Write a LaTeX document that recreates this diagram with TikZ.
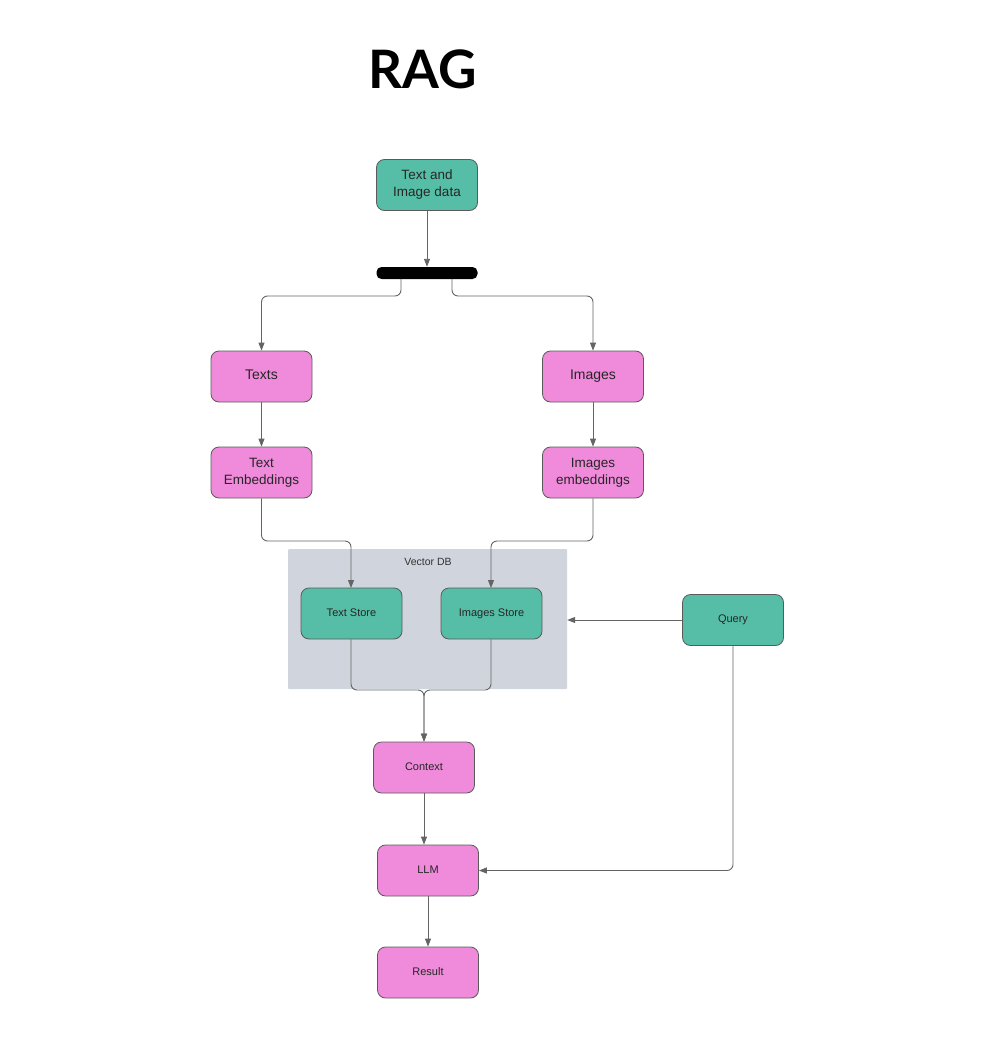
\documentclass[tikz,border=0pt]{standalone}
\usepackage{fontspec}
\setmainfont{Liberation Sans}
\newfontfamily\titlefont{Lato}
\usetikzlibrary{arrows.meta}
\definecolor{tealbox}{RGB}{86,190,166}
\definecolor{pinkbox}{RGB}{240,138,218}
\definecolor{dbgray}{RGB}{208,212,220}
\definecolor{edgegray}{RGB}{90,90,90}
\definecolor{linegray}{RGB}{100,100,100}
\tikzset{
  box/.style={draw=edgegray, line width=0.8pt, rounded corners=8pt, minimum width=101pt, minimum height=51pt, inner sep=0pt, align=center, text=black!85},
  tealnode/.style={box, fill=tealbox},
  pinknode/.style={box, fill=pinkbox},
  conn/.style={draw=linegray, line width=0.9pt, rounded corners=6pt, -{Triangle[length=8pt,width=6pt]}},
}
\begin{document}
\begin{tikzpicture}[x=1pt,y=-1pt]
\useasboundingbox (0,0) rectangle (1002,1054);
\node[font=\titlefont\bfseries\fontsize{53}{60}\selectfont] (title) at (423,69) {RAG};

\node[tealnode, font=\fontsize{13.5}{17}\selectfont] (data) at (427,185) {Text and\\Image data};
\node[fill=black, rounded corners=5pt, minimum width=101pt, minimum height=12pt, inner sep=0pt] (bar) at (427,273) {};

\node[pinknode, font=\fontsize{14}{17}\selectfont] (texts) at (261.5,376.5) {\strut Texts};
\node[pinknode, font=\fontsize{14}{17}\selectfont] (images) at (593,376.5) {\strut Images};
\node[pinknode, font=\fontsize{13.5}{17}\selectfont] (temb) at (261.5,472.5) {Text\\Embeddings};
\node[pinknode, font=\fontsize{13.5}{17}\selectfont] (iemb) at (593,472.5) {Images\\embeddings};

\node[fill=dbgray, minimum width=279pt, minimum height=140pt, inner sep=0pt, rounded corners=1pt] (vdb) at (427.5,619) {};
\node[font=\fontsize{10.5}{13}\selectfont, text=black!80] (vdblabel) at (428,562) {Vector DB};

\node[tealnode, font=\fontsize{11}{13}\selectfont] (tstore) at (351.5,613.5) {\strut Text Store};
\node[tealnode, font=\fontsize{11}{13}\selectfont] (istore) at (491.5,613.5) {\strut Images Store};
\node[tealnode, font=\fontsize{11}{13}\selectfont] (query) at (733,620) {\strut Query};

\node[pinknode, font=\fontsize{11}{13}\selectfont] (context) at (424,767.5) {\strut Context};
\node[pinknode, font=\fontsize{11}{13}\selectfont] (llm) at (428,870.5) {\strut LLM};
\node[pinknode, font=\fontsize{11}{13}\selectfont] (result) at (428,972.5) {\strut Result};

\coordinate (bl) at (401,279);
\coordinate (br) at (452,279);
\coordinate (tj) at (424,690);

\draw[conn] (data.south) -- (bar.north);
\draw[conn] (bl) -- (401,296) -- (texts.north |- 0,296) -- (texts.north);
\draw[conn] (br) -- (452,296) -- (images.north |- 0,296) -- (images.north);
\draw[conn] (texts.south) -- (temb.north);
\draw[conn] (images.south) -- (iemb.north);
\draw[conn] (temb.south) -- (261.5,541) -- (351,541) -- (351,588);
\draw[conn] (iemb.south) -- (593,541) -- (491,541) -- (491,588);
\draw[conn] (query.west) -- (vdb.east |- query.west);
\draw[conn] (tstore.south -| 351,0) -- (351,690) -- (tj) -- (context.north);
\draw[conn] (istore.south -| 491,0) -- (491,690) -- (tj) -- (context.north);
\draw[conn] (context.south) -- (llm.north -| context.south);
\draw[conn] (llm.south) -- (result.north);
\draw[conn] (query.south) -- (733,870.5) -- (llm.east);
\end{tikzpicture}
\end{document}
